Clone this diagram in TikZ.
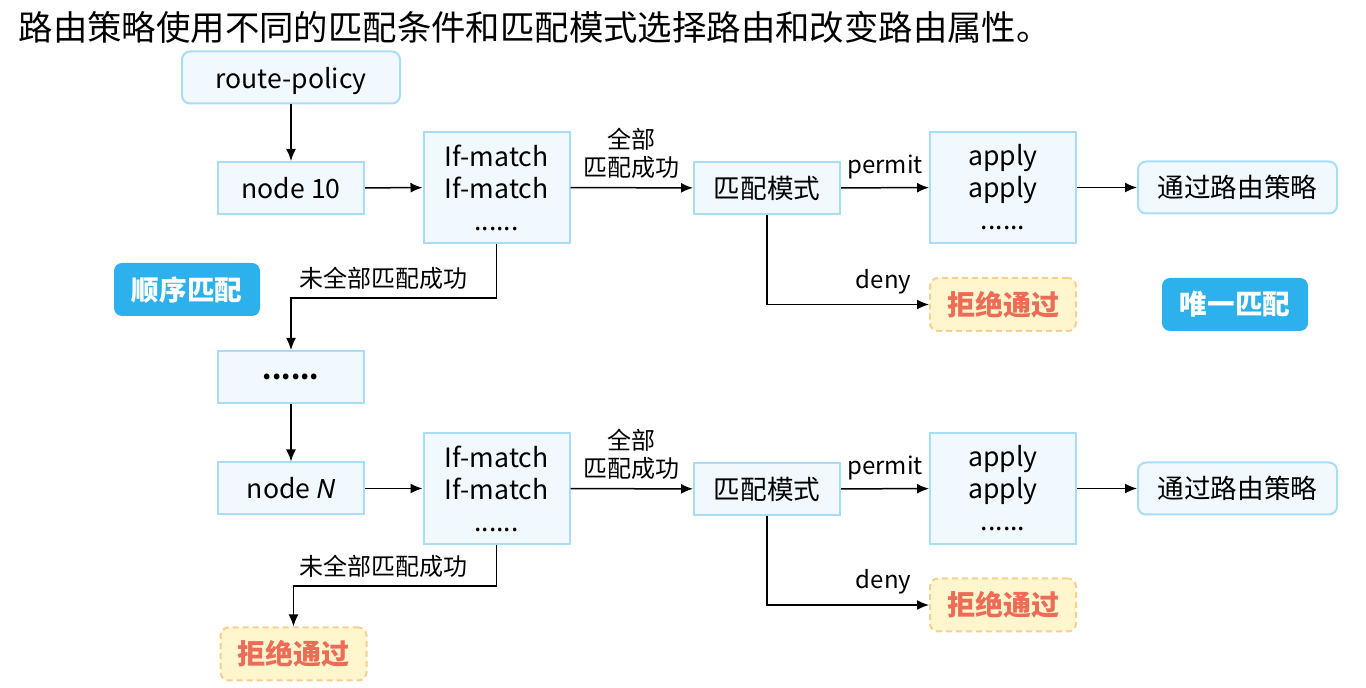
\documentclass[tikz,border=0pt]{standalone}
\usepackage{fontspec}
\setmainfont{Noto Sans CJK SC}
\newfontfamily\latinfont{Noto Sans}
\usetikzlibrary{arrows.meta,positioning}

\definecolor{boxfill}{HTML}{F1F9FE}
\definecolor{boxline}{HTML}{A9DDF5}
\definecolor{tagblue}{HTML}{2DB1EC}
\definecolor{rejfill}{HTML}{FFF6CE}
\definecolor{rejline}{HTML}{F8CF8C}
\definecolor{rejtext}{HTML}{EE6B57}

\tikzset{
  box/.style={draw=boxline, fill=boxfill, line width=1pt, inner sep=0pt,
    minimum width=73pt, minimum height=26pt, align=center,
    font=\fontsize{13.3}{16}\selectfont},
  tallbox/.style={box, minimum height=55.5pt},
  roundbox/.style={box, rounded corners=4pt},
  tag/.style={fill=tagblue, rounded corners=4pt, text=white, inner sep=0pt,
    minimum width=73pt, minimum height=26.5pt,
    font=\fontsize{13.8}{16}\selectfont\bfseries},
  reject/.style={draw=rejline, fill=rejfill, line width=1pt, dash pattern=on 3pt off 2pt,
    rounded corners=4pt, text=rejtext, inner sep=0pt,
    minimum width=73pt, minimum height=26.5pt,
    font=\fontsize{14}{16}\selectfont\bfseries},
  lbl/.style={font=\fontsize{12}{14}\selectfont, inner sep=0pt, align=center},
}

\begin{document}
\begin{tikzpicture}[x=0.5pt,y=-0.5pt,>={Latex[length=6pt,width=5pt]},line width=0.75pt]
\useasboundingbox (0,0) rectangle (1366,688);

\node[anchor=west, inner sep=0pt, font=\fontsize{17.2}{20}\selectfont] (title) at (18,27)
  {路由策略使用不同的匹配条件和匹配模式选择路由和改变路由属性。};

% first node
\node[roundbox, minimum width=109pt, text depth=0pt] (rp) at (291,77.5) {route-policy};
\node[box] (n10) at (291,188) {node 10};
\node[tallbox] (m1) at (496.5,187.5) {If-match\\If-match\\......};
\node[box] (mode1) at (767,188) {匹配模式};
\node[tallbox] (a1) at (1003,187.5) {apply\\apply\\......};
\node[roundbox, minimum width=99.5pt] (pass1) at (1237.5,187.5) {通过路由策略};
\node[reject] (rej1) at (1003,304.5) {拒绝通过};

\node[tag] (seq) at (187,289.5) {顺序匹配};
\node[tag] (only) at (1235,304.5) {唯一匹配};

\node[box] (dots1) at (291,377) {\textbf{......}};

% last node
\node[box] (nN) at (291,488.5) {node {\latinfont\itshape N}};
\node[tallbox] (m2) at (496.5,488.5) {If-match\\If-match\\......};
\node[box] (mode2) at (767,489) {匹配模式};
\node[tallbox] (a2) at (1003,488.5) {apply\\apply\\......};
\node[roundbox, minimum width=99.5pt] (pass2) at (1237.5,488.5) {通过路由策略};
\node[reject] (rej2) at (1003,605) {拒绝通过};
\node[reject] (rej3) at (293.5,654) {拒绝通过};

\draw[->] (rp) -- (n10);
\draw[->] (n10) -- (m1);
\draw[->] (m1) -- node[lbl, above=4pt] {全部\\匹配成功} (mode1);
\draw[->] (mode1) -- node[lbl, above=4pt] {permit} (a1);
\draw[->] (a1) -- (pass1);
\draw[->] (mode1) |- node[lbl, above=5pt, pos=0.86] {deny} (rej1);
\draw[->] (m1.south) -- ++(0,54) -| node[lbl, above=4pt, pos=0.275] {未全部匹配成功} (dots1);
\draw[->] (dots1) -- (nN);

\draw[->] (nN) -- (m2);
\draw[->] (m2) -- node[lbl, above=4pt] {全部\\匹配成功} (mode2);
\draw[->] (mode2) -- node[lbl, above=4pt] {permit} (a2);
\draw[->] (a2) -- (pass2);
\draw[->] (mode2) |- node[lbl, above=5pt, pos=0.86] {deny} (rej2);
\draw[->] (m2.south) -- ++(0,41) -| node[lbl, above=4pt, pos=0.278] {未全部匹配成功} (rej3);
\end{tikzpicture}
\end{document}
